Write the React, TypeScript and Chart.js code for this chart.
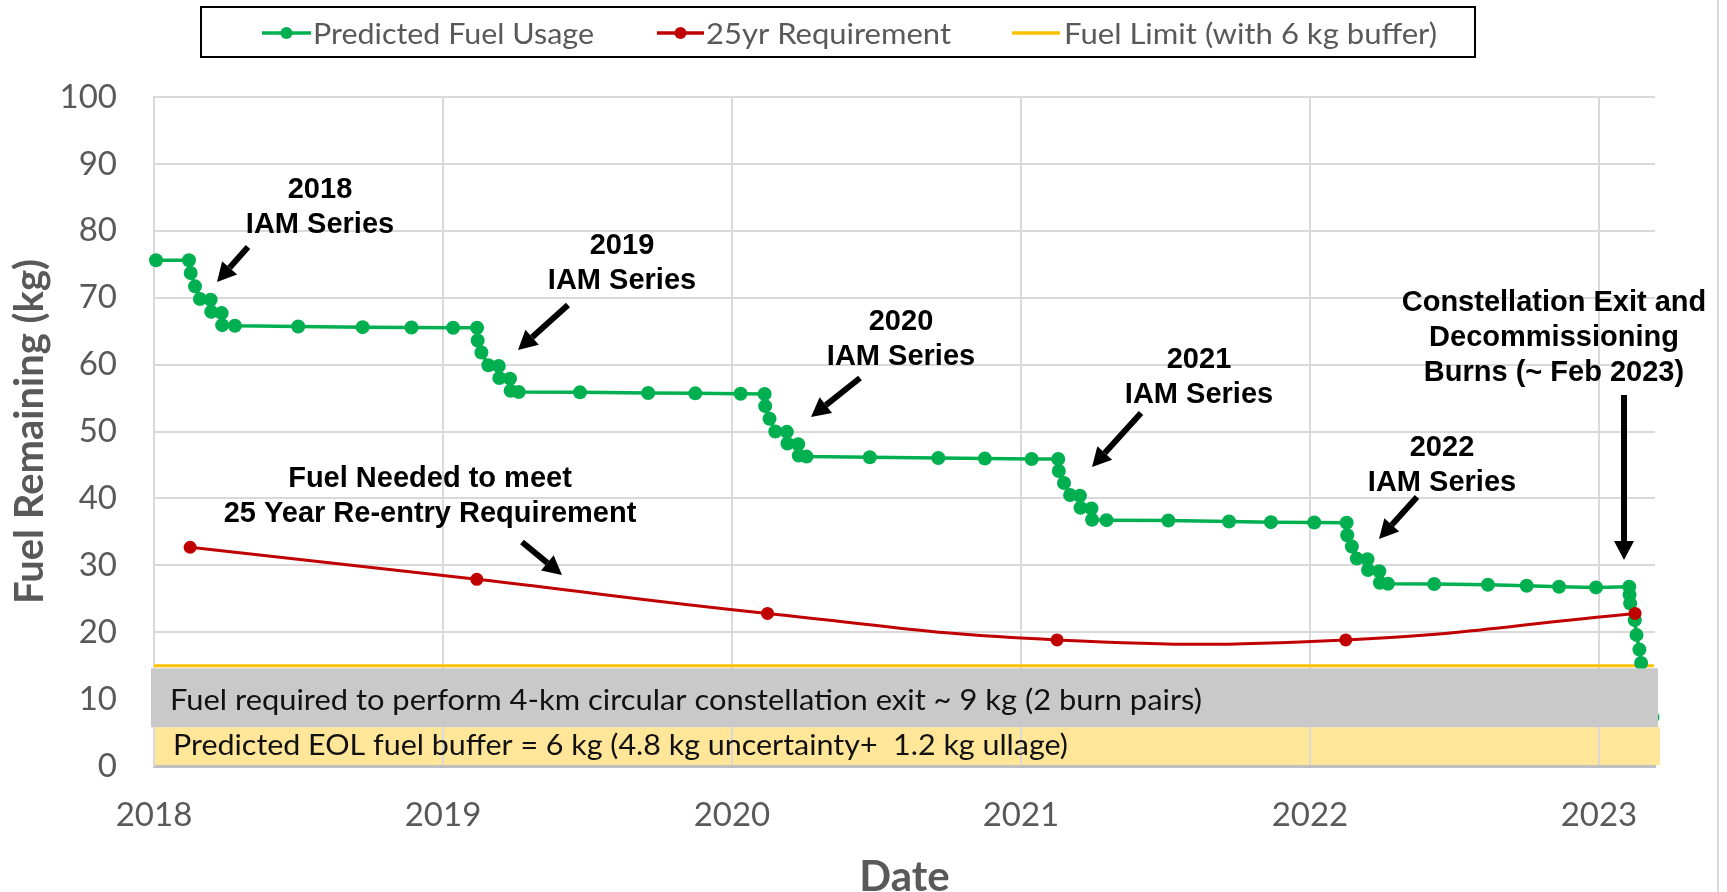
import React, { useEffect, useRef } from 'react';
import { Chart, registerables } from 'chart.js';

Chart.register(...registerables);

// ---------- data ----------
const fuelDates = [
  2018.007, 2018.121, 2018.127, 2018.142, 2018.159, 2018.196, 2018.198, 2018.234, 2018.236, 2018.28,
  2018.499, 2018.722, 2018.891, 2019.035, 2019.118, 2019.12, 2019.133, 2019.157, 2019.193, 2019.195,
  2019.232, 2019.234, 2019.262, 2019.474, 2019.71, 2019.873, 2020.03, 2020.113, 2020.115, 2020.13,
  2020.15, 2020.19, 2020.192, 2020.229, 2020.231, 2020.258, 2020.477, 2020.714, 2020.875, 2021.037,
  2021.129, 2021.131, 2021.149, 2021.17, 2021.204, 2021.206, 2021.244, 2021.246, 2021.296, 2021.51,
  2021.72, 2021.865, 2022.015, 2022.127, 2022.129, 2022.145, 2022.162, 2022.199, 2022.201, 2022.24,
  2022.242, 2022.27, 2022.43, 2022.616, 2022.75, 2022.862, 2022.99, 2023.105, 2023.106, 2023.108,
  2023.124, 2023.13, 2023.14, 2023.146, 2023.15, 2023.155, 2023.16, 2023.17, 2023.185,
];
const fuelValues = [
  75.6, 75.6, 73.7, 71.7, 69.8, 69.7, 67.9, 67.7, 65.9, 65.8,
  65.7, 65.6, 65.55, 65.5, 65.5, 63.6, 61.8, 59.9, 59.8, 58.0,
  57.9, 56.1, 55.9, 55.85, 55.75, 55.7, 55.65, 55.6, 53.8, 51.9,
  50.0, 49.95, 48.2, 48.1, 46.4, 46.25, 46.15, 46.05, 45.95, 45.9,
  45.9, 44.1, 42.3, 40.5, 40.4, 38.6, 38.5, 36.8, 36.75, 36.7,
  36.55, 36.45, 36.4, 36.35, 34.5, 32.8, 31.0, 30.9, 29.3, 29.1,
  27.4, 27.25, 27.2, 27.1, 26.95, 26.8, 26.7, 26.8, 25.6, 24.3,
  21.8, 19.6, 17.4, 15.4, 13.4, 11.4, 9.6, 8.2, 7.3,
];
const reqDates = [2018.125, 2019.117, 2020.123, 2021.125, 2022.124, 2023.125];
const reqValues = [32.7, 27.9, 22.8, 18.85, 18.85, 22.8];
const limitDates = [2018, 2023.19];
const limitValues = [15, 15];

const xMin = 2018;
const xMax = 2023.194;
const yMin = 0;
const yMax = 100;
const seriesNames = ['Predicted Fuel Usage', '25yr Requirement', 'Fuel Limit (with 6 kg buffer)'];
const axisTitles = ['Date', 'Fuel Remaining (kg)'];
const bandTexts = [
  'Fuel required to perform 4-km circular constellation exit ~ 9 kg (2 burn pairs)',
  'Predicted EOL fuel buffer = 6 kg (4.8 kg uncertainty+  1.2 kg ullage)',
];

// ---------- styling / layout ----------
const GREEN = '#00B050';
const RED = '#C00000';
const YELLOW = '#FFC000';
const GRID = '#D9D9D9';
const TXT = '#595959';
const CAL = 'Lato, "Open Sans", sans-serif';
const ARIAL = '"Liberation Sans", Arial, sans-serif';

const notes = [
  { lines: ['2018', 'IAM Series'], x: 320, y: 198 },
  { lines: ['2019', 'IAM Series'], x: 622, y: 254 },
  { lines: ['2020', 'IAM Series'], x: 901, y: 330 },
  { lines: ['2021', 'IAM Series'], x: 1199, y: 368 },
  { lines: ['2022', 'IAM Series'], x: 1442, y: 456 },
  { lines: ['Constellation Exit and', 'Decommissioning', 'Burns (~ Feb 2023)'], x: 1554, y: 311 },
  { lines: ['Fuel Needed to meet', '25 Year Re-entry Requirement'], x: 430, y: 487 },
];
const arrows = [
  [248, 247, 217, 282],
  [568, 305, 518, 350],
  [860, 378, 811, 417],
  [1141, 413, 1092, 467],
  [1417, 497, 1379, 539],
  [1624, 395, 1624, 560],
  [522, 542, 562, 575],
];

function fitText(ctx: CanvasRenderingContext2D, text: string, x: number, y: number, w: number) {
  const m = ctx.measureText(text).width;
  const sx = w / m;
  ctx.save();
  ctx.textAlign = 'left';
  ctx.translate(x, y);
  ctx.scale(sx, 1);
  ctx.fillText(text, 0, 0);
  ctx.restore();
}

function drawArrow(ctx: CanvasRenderingContext2D, x1: number, y1: number, x2: number, y2: number) {
  const ang = Math.atan2(y2 - y1, x2 - x1);
  const headL = 19;
  const headW = 10;
  const bx = x2 - headL * Math.cos(ang);
  const by = y2 - headL * Math.sin(ang);
  ctx.save();
  ctx.strokeStyle = '#000';
  ctx.fillStyle = '#000';
  ctx.lineWidth = 6;
  ctx.lineCap = 'butt';
  ctx.beginPath();
  ctx.moveTo(x1, y1);
  ctx.lineTo(bx, by);
  ctx.stroke();
  ctx.beginPath();
  ctx.moveTo(x2, y2);
  ctx.lineTo(bx + headW * Math.sin(ang), by - headW * Math.cos(ang));
  ctx.lineTo(bx - headW * Math.sin(ang), by + headW * Math.cos(ang));
  ctx.closePath();
  ctx.fill();
  ctx.restore();
}

const overlay = {
  id: 'overlay',
  beforeDraw(chart: any) {
    const { ctx, chartArea, scales } = chart;
    const y = scales.y;
    ctx.save();
    ctx.fillStyle = '#FFE699';
    const t = y.getPixelForValue(5.8);
    const b = y.getPixelForValue(0.15);
    ctx.fillRect(chartArea.left, t, chartArea.right - chartArea.left + 5, b - t);
    ctx.restore();
  },
  afterDatasetsDraw(chart: any) {
    const { ctx, chartArea, scales } = chart;
    const y = scales.y;
    ctx.save();
    ctx.fillStyle = '#C9C9C9';
    const t = y.getPixelForValue(14.6);
    const b = y.getPixelForValue(5.8);
    ctx.fillRect(chartArea.left - 3, t, chartArea.right - chartArea.left + 6, b - t);
    ctx.fillStyle = '#111';
    ctx.font = `29px ${CAL}`;
    ctx.textBaseline = 'alphabetic';
    fitText(ctx, bandTexts[0], 170, 710, 1032);
    fitText(ctx, bandTexts[1], 173, 755, 895);
    ctx.restore();
  },
  afterDraw(chart: any) {
    const { ctx } = chart;
    ctx.save();
    // annotations
    ctx.fillStyle = '#000';
    ctx.font = `bold 29px ${ARIAL}`;
    ctx.textAlign = 'center';
    ctx.textBaseline = 'alphabetic';
    notes.forEach((n) => {
      n.lines.forEach((l, i) => ctx.fillText(l, n.x, n.y + i * 34.8));
    });
    arrows.forEach((a) => drawArrow(ctx, a[0], a[1], a[2], a[3]));

    // legend
    const lx = 201, ly = 7, lw = 1274, lh = 50;
    ctx.fillStyle = '#fff';
    ctx.fillRect(lx, ly, lw, lh);
    ctx.strokeStyle = '#000';
    ctx.lineWidth = 2;
    ctx.strokeRect(lx, ly, lw, lh);
    const items = [
      { x1: 262, x2: 311, color: GREEN, marker: true, tx: 313, tw: 281, r: 6 },
      { x1: 657, x2: 704, color: RED, marker: true, tx: 706, tw: 245, r: 6 },
      { x1: 1012, x2: 1060, color: YELLOW, marker: false, tx: 1064, tw: 373, r: 0 },
    ];
    ctx.font = `29px ${CAL}`;
    items.forEach((it, i) => {
      ctx.strokeStyle = it.color;
      ctx.lineWidth = 3.5;
      ctx.beginPath();
      ctx.moveTo(it.x1, 33);
      ctx.lineTo(it.x2, 33);
      ctx.stroke();
      if (it.marker) {
        ctx.fillStyle = it.color;
        ctx.beginPath();
        ctx.arc((it.x1 + it.x2) / 2, 33, it.r, 0, Math.PI * 2);
        ctx.fill();
      }
      ctx.fillStyle = TXT;
      fitText(ctx, seriesNames[i], it.tx, 44, it.tw);
    });

    // outer right border
    ctx.strokeStyle = GRID;
    ctx.lineWidth = 2;
    ctx.beginPath();
    ctx.moveTo(1718, 0);
    ctx.lineTo(1718, 892);
    ctx.stroke();
    ctx.restore();
  },
};

const pts = (xs: number[], ys: number[]) => xs.map((x, i) => ({ x, y: ys[i] }));

export default function App() {
  const ref = useRef<HTMLCanvasElement | null>(null);
  useEffect(() => {
    document.body.style.margin = '0';
    document.body.style.overflow = 'hidden';
    const canvas = ref.current!;
    const chart = new Chart(canvas, {
      type: 'line',
      data: {
        datasets: [
          {
            label: seriesNames[1],
            data: pts(reqDates, reqValues),
            borderColor: RED,
            backgroundColor: RED,
            borderWidth: 3,
            pointRadius: 6.5,
            pointBorderWidth: 0,
            tension: 0.45,
            order: 0,
          },
          {
            label: seriesNames[0],
            data: pts(fuelDates, fuelValues),
            borderColor: GREEN,
            backgroundColor: GREEN,
            borderWidth: 3.5,
            pointRadius: 7,
            pointBorderWidth: 0,
            tension: 0,
            order: 1,
            clip: false,
          },
          {
            label: seriesNames[2],
            data: pts(limitDates, limitValues),
            borderColor: YELLOW,
            backgroundColor: YELLOW,
            borderWidth: 3,
            pointRadius: 0,
            tension: 0,
            order: 2,
          },
        ],
      },
      options: {
        responsive: false,
        animation: false,
        events: [],
        layout: { padding: { top: 97, right: 72, bottom: 0, left: 0 } },
        plugins: { legend: { display: false }, tooltip: { enabled: false } },
        scales: {
          x: {
            type: 'linear',
            min: xMin,
            max: xMax,
            ticks: {
              stepSize: 1,
              includeBounds: false,
              autoSkip: false,
              maxRotation: 0,
              callback: (v: any) => String(Math.round(Number(v))),
              font: { family: CAL, size: 33 },
              color: TXT,
              padding: 30,
            },
            grid: { color: GRID, lineWidth: 2, drawTicks: false },
            border: { color: '#BFBFBF', width: 3 },
            title: {
              display: true,
              text: axisTitles[0],
              color: TXT,
              font: { family: CAL, size: 42, weight: 'bold', lineHeight: 0.7 },
              padding: { top: 0, bottom: 0 },
            },
            afterFit: (s: any) => {
              s.height = 126;
            },
          },
          y: {
            min: yMin,
            max: yMax,
            ticks: {
              stepSize: 10,
              font: { family: CAL, size: 33 },
              color: TXT,
              padding: 37,
            },
            grid: { color: GRID, lineWidth: 2, drawTicks: false },
            border: { color: GRID, width: 2 },
            title: {
              display: true,
              text: axisTitles[1],
              color: TXT,
              font: { family: CAL, size: 40, weight: 'bold', lineHeight: 1 },
              padding: { top: 10, bottom: 0 },
            },
            afterFit: (s: any) => {
              s.width = 154;
            },
          },
        },
      },
      plugins: [overlay],
    } as any);
    return () => chart.destroy();
  }, []);
  return (
    <div style={{ width: 1727, height: 892, position: 'relative', background: '#fff' }}>
      <canvas ref={ref} width={1727} height={892} style={{ display: 'block' }} />
    </div>
  );
}
